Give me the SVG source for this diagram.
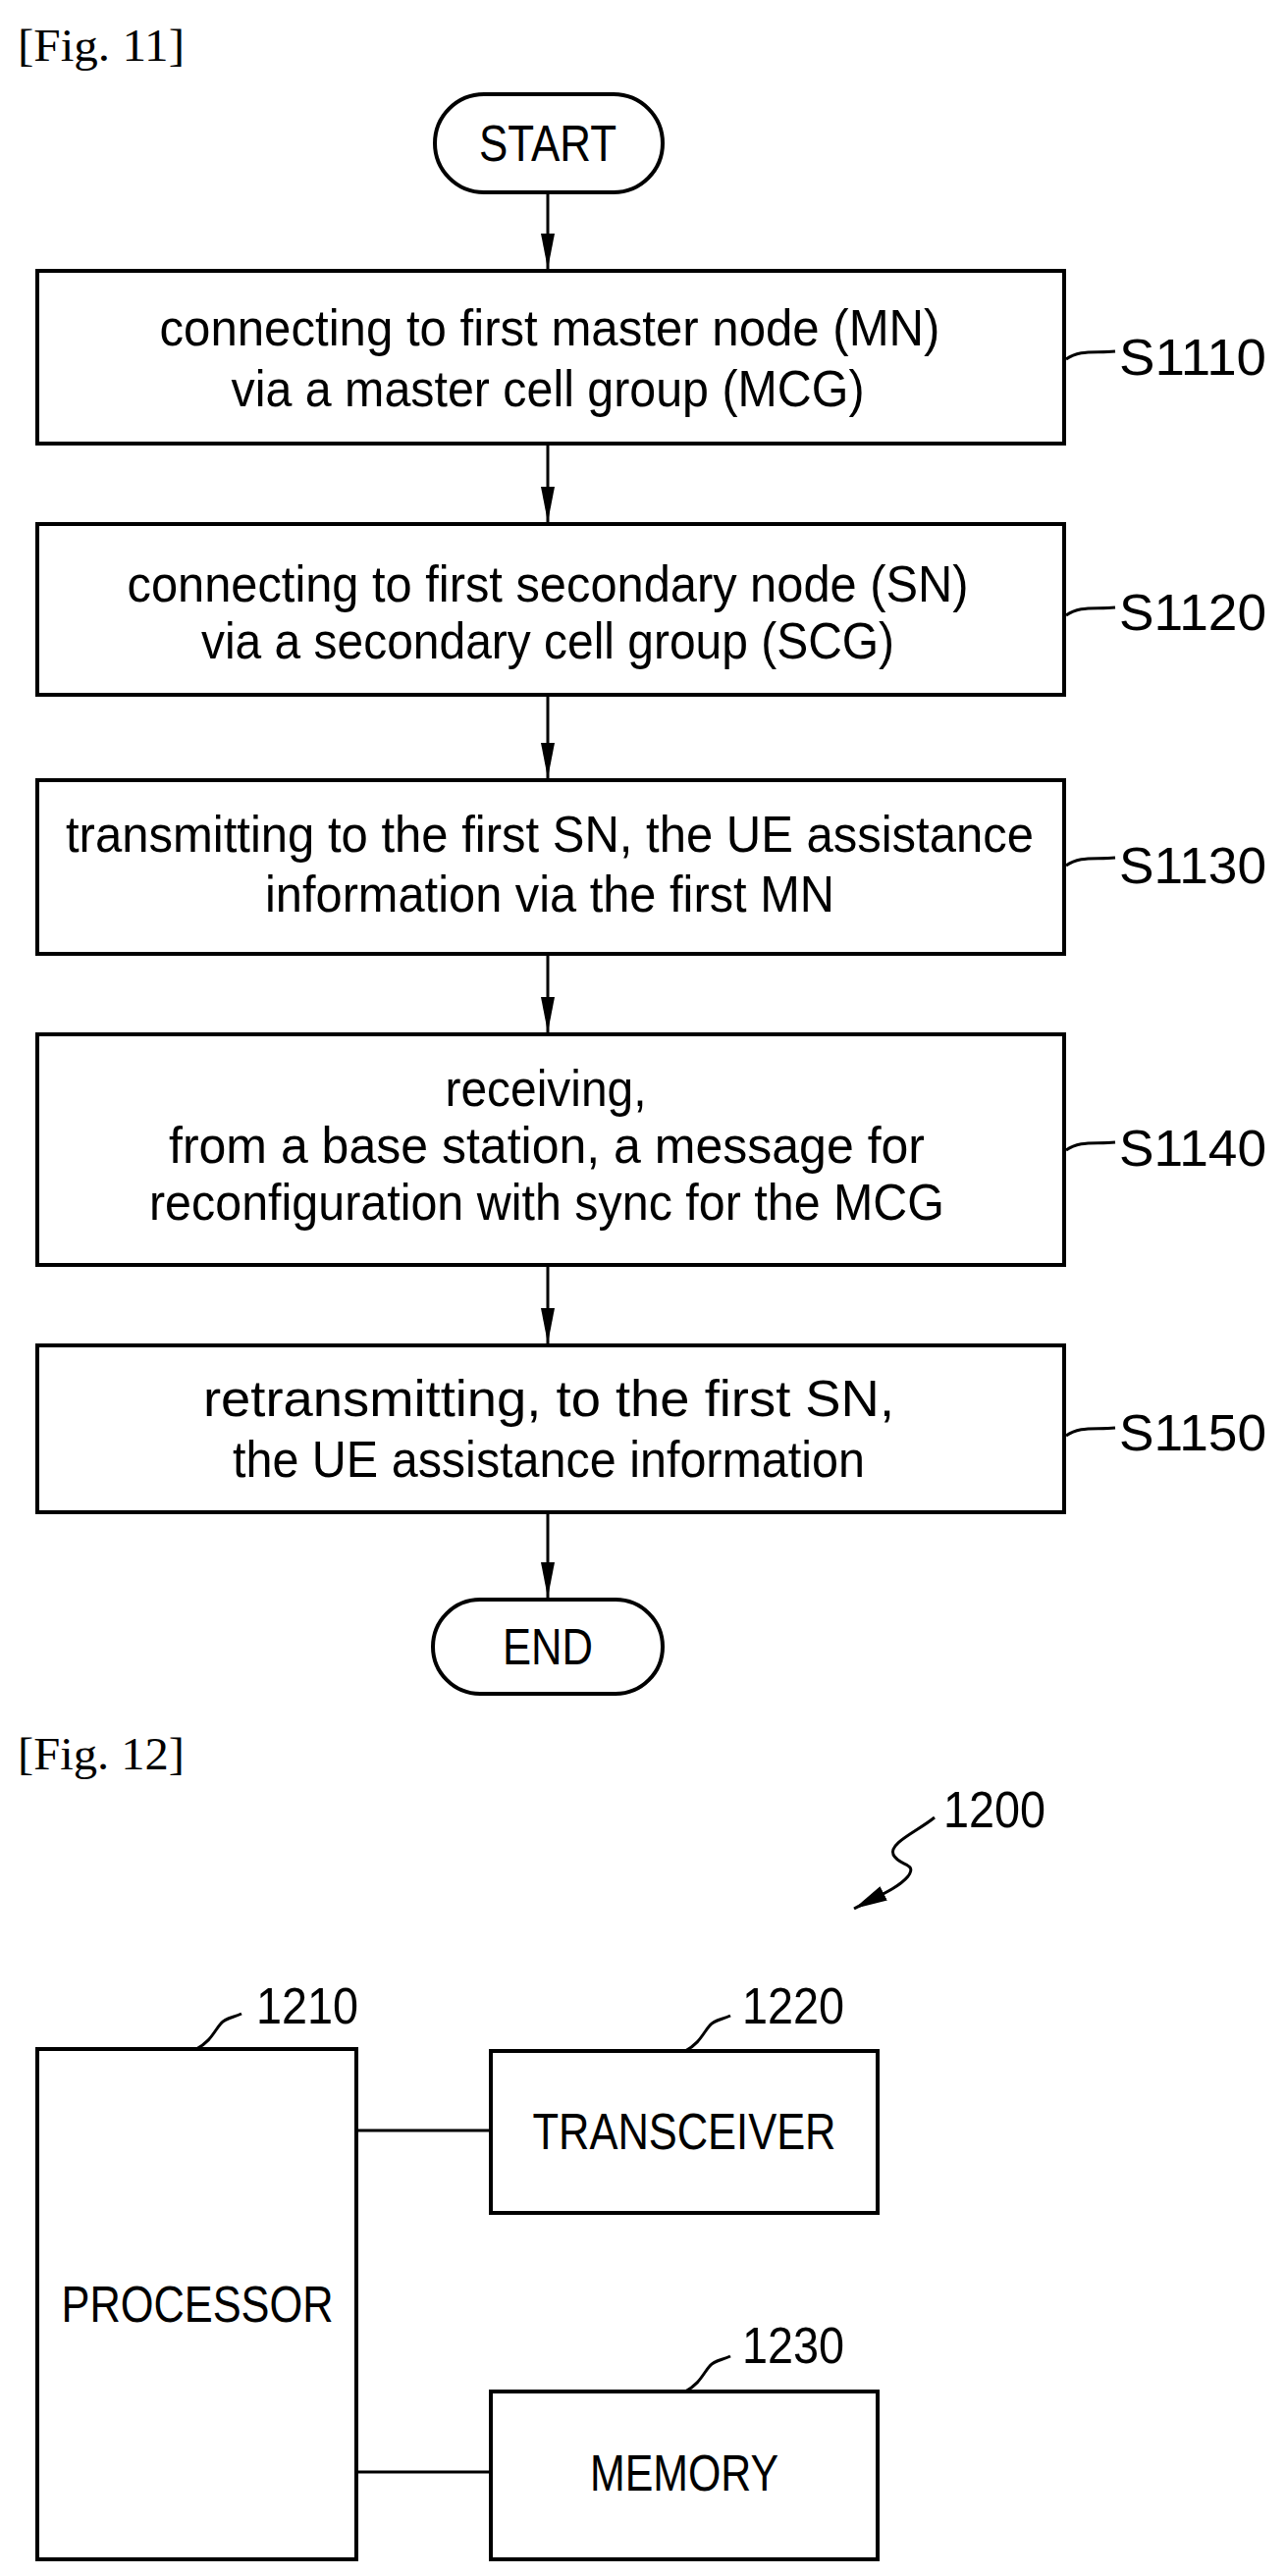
<svg xmlns="http://www.w3.org/2000/svg" width="1310" height="2625" viewBox="0 0 1310 2625">
<style>
.b{fill:#fff;stroke:#000;stroke-width:4}
.t{font-family:"Liberation Sans",Arial,sans-serif;font-size:52px;text-anchor:middle;fill:#000}
.s{font-family:"Liberation Sans",Arial,sans-serif;font-size:52px;fill:#000}
.f{font-family:"Liberation Serif","Times New Roman",serif;font-size:46px;fill:#000}
.l{fill:none;stroke:#000;stroke-width:3}
</style>
<defs>
<marker id="a" markerWidth="36" markerHeight="14" refX="36" refY="7" orient="auto" markerUnits="userSpaceOnUse" viewBox="0 0 36 14">
<path d="M0,0 L36,7 L0,14 Z" fill="#000"/>
</marker>
<marker id="a2" markerWidth="36" markerHeight="22" refX="34" refY="11" orient="auto" markerUnits="userSpaceOnUse" viewBox="0 0 36 22">
<path d="M0,3 L34,11 L0,19 Z" fill="#000"/>
</marker>
</defs>
<text class="f" x="18" y="62" textLength="170" lengthAdjust="spacingAndGlyphs">[Fig. 11]</text>
<text class="f" x="18" y="1803" textLength="170" lengthAdjust="spacingAndGlyphs">[Fig. 12]</text>

<g id="connectors">
<line class="l" x1="558" y1="197" x2="558" y2="274" marker-end="url(#a)"/>
<line class="l" x1="558" y1="452" x2="558" y2="532" marker-end="url(#a)"/>
<line class="l" x1="558" y1="708" x2="558" y2="793" marker-end="url(#a)"/>
<line class="l" x1="558" y1="972" x2="558" y2="1052" marker-end="url(#a)"/>
<line class="l" x1="558" y1="1289" x2="558" y2="1369" marker-end="url(#a)"/>
<line class="l" x1="558" y1="1541" x2="558" y2="1628" marker-end="url(#a)"/>
<line class="l" x1="363" y1="2171" x2="500" y2="2171"/>
<line class="l" x1="363" y1="2519" x2="500" y2="2519"/>
</g>

<g id="start"><rect class="b" x="443" y="96" width="232" height="100" rx="50"/><text class="t" x="558" y="164" textLength="140" lengthAdjust="spacingAndGlyphs">START</text></g>

<g id="s1110"><rect class="b" x="38" y="276" width="1046" height="176"/>
<text class="t" x="560" y="352" textLength="795" lengthAdjust="spacingAndGlyphs">connecting to first master node (MN)</text>
<text class="t" x="558" y="414" textLength="645" lengthAdjust="spacingAndGlyphs">via a master cell group (MCG)</text>
<path class="l" d="M1086,366 C1100,356 1115,360 1136,358"/>
<text class="s" x="1140" y="382" textLength="150" lengthAdjust="spacingAndGlyphs">S1110</text></g>

<g id="s1120"><rect class="b" x="38" y="534" width="1046" height="174"/>
<text class="t" x="558" y="613" textLength="857" lengthAdjust="spacingAndGlyphs">connecting to first secondary node (SN)</text>
<text class="t" x="558" y="671" textLength="706" lengthAdjust="spacingAndGlyphs">via a secondary cell group (SCG)</text>
<path class="l" d="M1086,627 C1100,617 1115,621 1136,619"/>
<text class="s" x="1140" y="642" textLength="150" lengthAdjust="spacingAndGlyphs">S1120</text></g>

<g id="s1130"><rect class="b" x="38" y="795" width="1046" height="177"/>
<text class="t" x="560" y="868" textLength="986" lengthAdjust="spacingAndGlyphs">transmitting to the first SN, the UE assistance</text>
<text class="t" x="560" y="929" textLength="580" lengthAdjust="spacingAndGlyphs">information via the first MN</text>
<path class="l" d="M1086,882 C1100,872 1115,876 1136,874"/>
<text class="s" x="1140" y="900" textLength="150" lengthAdjust="spacingAndGlyphs">S1130</text></g>

<g id="s1140"><rect class="b" x="38" y="1054" width="1046" height="235"/>
<text class="t" x="556" y="1127" textLength="205" lengthAdjust="spacingAndGlyphs">receiving,</text>
<text class="t" x="557" y="1185" textLength="770" lengthAdjust="spacingAndGlyphs">from a base station, a message for</text>
<text class="t" x="557" y="1243" textLength="810" lengthAdjust="spacingAndGlyphs">reconfiguration with sync for the MCG</text>
<path class="l" d="M1086,1172 C1100,1162 1115,1166 1136,1164"/>
<text class="s" x="1140" y="1188" textLength="150" lengthAdjust="spacingAndGlyphs">S1140</text></g>

<g id="s1150"><rect class="b" x="38" y="1371" width="1046" height="170"/>
<text class="t" x="559" y="1443" textLength="704" lengthAdjust="spacingAndGlyphs">retransmitting, to the first SN,</text>
<text class="t" x="559" y="1505" textLength="644" lengthAdjust="spacingAndGlyphs">the UE assistance information</text>
<path class="l" d="M1086,1463 C1100,1453 1115,1457 1136,1455"/>
<text class="s" x="1140" y="1478" textLength="150" lengthAdjust="spacingAndGlyphs">S1150</text></g>

<g id="end"><rect class="b" x="441" y="1630" width="234" height="96" rx="48"/><text class="t" x="558" y="1696" textLength="92" lengthAdjust="spacingAndGlyphs">END</text></g>

<g id="n1200"><path class="l" d="M952,1852 C935,1866 905,1878 910,1890 C916,1902 935,1898 925,1912 C915,1924 895,1932 870,1945" marker-end="url(#a2)"/>
<text class="s" x="961" y="1862" textLength="104" lengthAdjust="spacingAndGlyphs">1200</text></g>

<g id="processor"><rect class="b" x="38" y="2088" width="325" height="520"/>
<text class="t" x="201" y="2366" textLength="277" lengthAdjust="spacingAndGlyphs">PROCESSOR</text>
<path class="l" d="M200,2088 C215,2080 218,2070 225,2062 C230,2056 238,2056 246,2052"/>
<text class="s" x="261" y="2062" textLength="104" lengthAdjust="spacingAndGlyphs">1210</text></g>

<g id="transceiver"><rect class="b" x="500" y="2090" width="394" height="165"/>
<text class="t" x="697" y="2190" textLength="309" lengthAdjust="spacingAndGlyphs">TRANSCEIVER</text>
<path class="l" d="M698,2090 C713,2082 716,2072 723,2064 C728,2058 736,2058 744,2054"/>
<text class="s" x="756" y="2062" textLength="104" lengthAdjust="spacingAndGlyphs">1220</text></g>

<g id="memory"><rect class="b" x="500" y="2437" width="394" height="171"/>
<text class="t" x="697" y="2538" textLength="192" lengthAdjust="spacingAndGlyphs">MEMORY</text>
<path class="l" d="M698,2437 C713,2429 716,2419 723,2411 C728,2405 736,2405 744,2401"/>
<text class="s" x="756" y="2408" textLength="104" lengthAdjust="spacingAndGlyphs">1230</text></g>
</svg>
